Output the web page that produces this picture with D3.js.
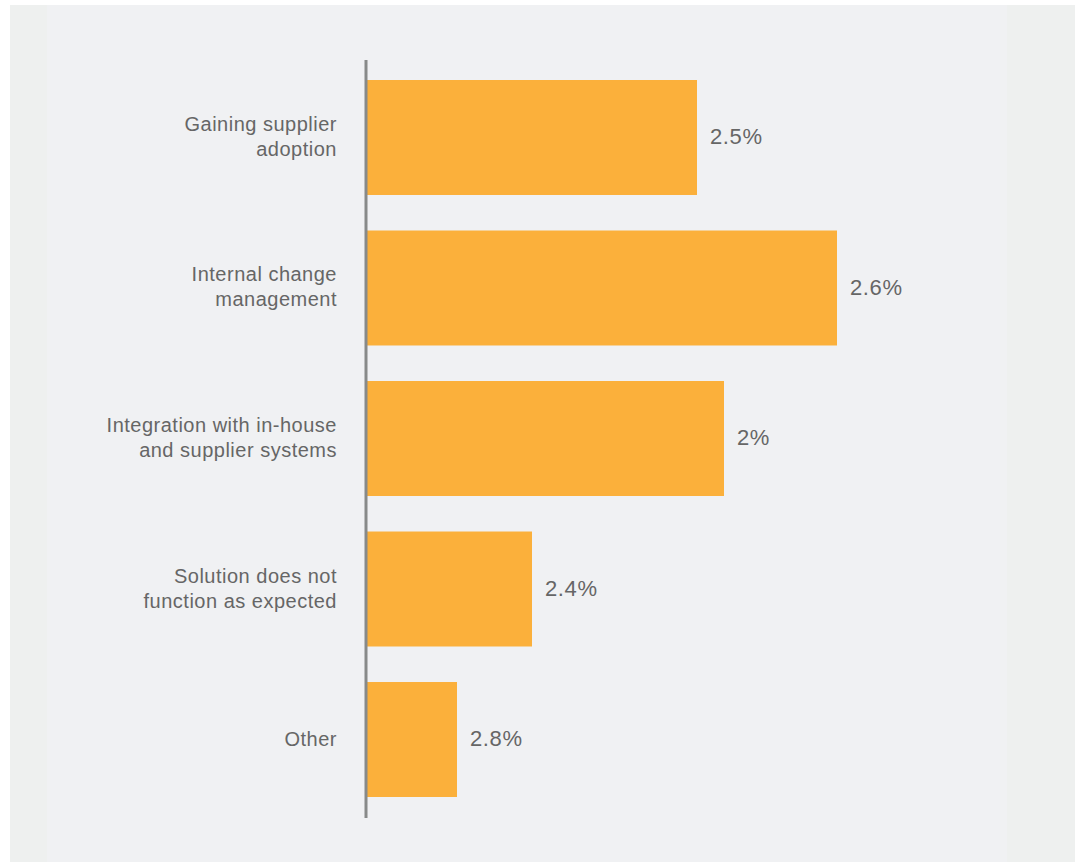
<!DOCTYPE html>
<html><head><meta charset="utf-8">
<script src="https://cdn.jsdelivr.net/npm/d3@7"></script>
<style>body{margin:0;background:#fff;}svg{display:block;font-family:"Liberation Sans",Arial,sans-serif;}</style>
</head><body>
<script>
const categories = [["Gaining supplier","adoption"],["Internal change","management"],["Integration with in-house","and supplier systems"],["Solution does not","function as expected"],["Other"]];
const values = [33.0, 47.0, 35.7, 16.5, 9.0];
const valueLabels = ["2.5%","2.6%","2%","2.4%","2.8%"];

const W=1078,H=863;
const svg=d3.select("body").append("svg").attr("width",W).attr("height",H);
svg.append("rect").attr("x",10).attr("y",5).attr("width",1065).attr("height",857).attr("fill","#eef0ef");
svg.append("rect").attr("x",47).attr("y",5).attr("width",960).attr("height",857).attr("fill","#f0f1f3");

const x=d3.scaleLinear().domain([0,70]).range([367,1067]);
const y=d3.scaleBand().domain(d3.range(categories.length)).range([80,797]).paddingInner(0.236).paddingOuter(0);

svg.selectAll("rect.bar").data(values).join("rect").attr("class","bar")
  .attr("x",x(0)).attr("y",(d,i)=>y(i)).attr("width",d=>x(d)-x(0)).attr("height",y.bandwidth()).attr("fill","#fbb03b");

svg.append("line").attr("x1",366).attr("x2",366).attr("y1",60).attr("y2",818).attr("stroke","#888a89").attr("stroke-width",3);

svg.selectAll("text.val").data(values).join("text").attr("class","val")
  .attr("x",d=>x(d)+13).attr("y",(d,i)=>y(i)+y.bandwidth()/2-1).attr("dy","0.35em")
  .attr("font-size",22).attr("letter-spacing",0.6).attr("fill","#666").text((d,i)=>valueLabels[i]);

const g=svg.selectAll("g.cat").data(categories).join("g").attr("class","cat");
g.each(function(lines,i){
  const cy=y(i)+y.bandwidth()/2;
  const lh=25;
  const t=d3.select(this).append("text").attr("text-anchor","end").attr("font-size",20).attr("letter-spacing",0.5).attr("fill","#666");
  lines.forEach((l,j)=>{
    t.append("tspan").attr("x",337).attr("y",cy-(lines.length-1)*lh/2+j*lh-1).attr("dy","0.35em").text(l);
  });
});
</script>
</body></html>
